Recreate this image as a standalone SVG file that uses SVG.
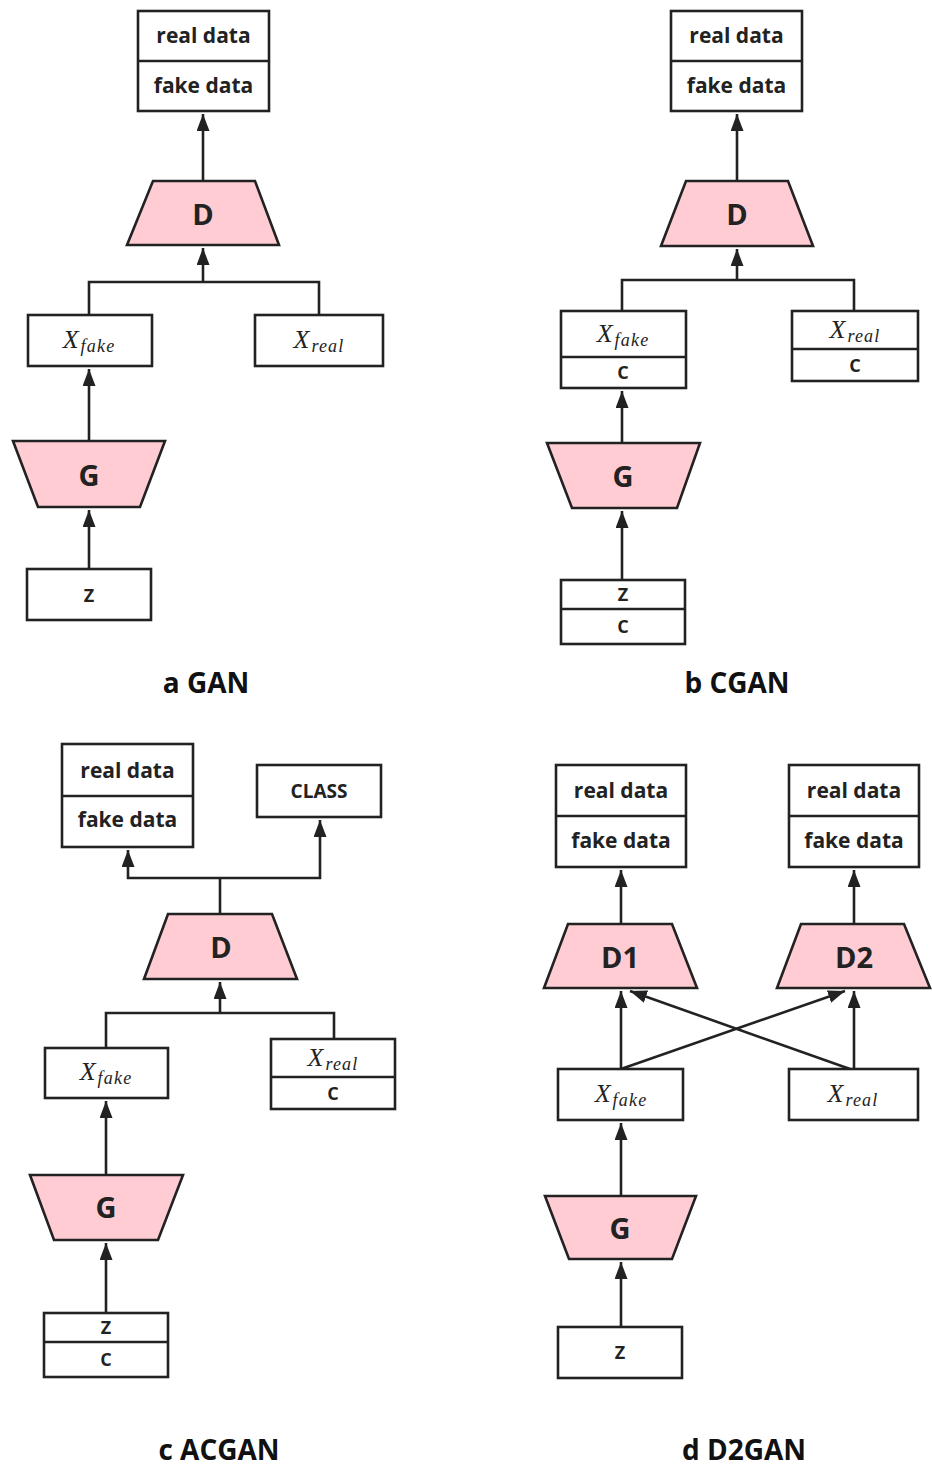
<svg xmlns="http://www.w3.org/2000/svg" width="932" height="1466" viewBox="0 0 932 1466">
<defs>
<style>
.bx{fill:#fff;stroke:#222;stroke-width:2.6}
.tz{fill:#ffccd3;stroke:#222;stroke-width:2.6;stroke-linejoin:miter}
.dv{stroke:#222;stroke-width:2.6}
.ln{fill:none;stroke:#222;stroke-width:2.6}
.t{font-family:"Open Sans","Noto Sans",sans-serif;font-weight:700;fill:#222;text-anchor:middle}
.rf{font-size:21px}
.big{font-size:29px}
.sm{font-size:18px}
.cap{font-size:28px;fill:#111}
.m{font-family:"Liberation Serif","DejaVu Serif",serif;font-style:italic;font-size:26px;fill:#222;text-anchor:middle}
.sub{font-size:18px;letter-spacing:1.2px}
</style>
<marker id="ah" viewBox="0 0 17 13" refX="17" refY="6.5" markerWidth="17" markerHeight="13" markerUnits="userSpaceOnUse" orient="auto">
<path d="M0,0 L17,6.5 L0,13 z" fill="#222"/>
</marker>
</defs>
<rect width="932" height="1466" fill="#fff"/>

<g id="connectors">
<!-- a -->
<path class="ln" d="M203,181 V114" marker-end="url(#ah)"/>
<path class="ln" d="M89,315 V282 H319 V315"/>
<path class="ln" d="M203,282 V248" marker-end="url(#ah)"/>
<path class="ln" d="M89,441 V369" marker-end="url(#ah)"/>
<path class="ln" d="M89,569 V510" marker-end="url(#ah)"/>
<!-- b -->
<path class="ln" d="M737,181 V114" marker-end="url(#ah)"/>
<path class="ln" d="M622,311 V280 H854 V311"/>
<path class="ln" d="M737,280 V249" marker-end="url(#ah)"/>
<path class="ln" d="M622,443 V391" marker-end="url(#ah)"/>
<path class="ln" d="M622,580 V511" marker-end="url(#ah)"/>
<!-- c -->
<path class="ln" d="M220,914 V878"/>
<path class="ln" d="M220,878 H128 V850" marker-end="url(#ah)"/>
<path class="ln" d="M220,878 H320 V820" marker-end="url(#ah)"/>
<path class="ln" d="M106,1048 V1013 H334 V1039"/>
<path class="ln" d="M220,1013 V982" marker-end="url(#ah)"/>
<path class="ln" d="M106,1175 V1101" marker-end="url(#ah)"/>
<path class="ln" d="M106,1313 V1243" marker-end="url(#ah)"/>
<!-- d -->
<path class="ln" d="M621,924 V870" marker-end="url(#ah)"/>
<path class="ln" d="M854,924 V870" marker-end="url(#ah)"/>
<path class="ln" d="M621,1069 V991" marker-end="url(#ah)"/>
<path class="ln" d="M621,1069 L845,991" marker-end="url(#ah)"/>
<path class="ln" d="M854,1069 V991" marker-end="url(#ah)"/>
<path class="ln" d="M850,1069 L630,991" marker-end="url(#ah)"/>
<path class="ln" d="M621,1196 V1123" marker-end="url(#ah)"/>
<path class="ln" d="M621,1327 V1262" marker-end="url(#ah)"/>
</g>

<!-- Panel a -->
<g id="a-out">
<rect class="bx" x="138" y="11" width="131" height="100"/>
<line class="dv" x1="138" y1="61" x2="269" y2="61"/>
<text class="t rf" x="203.5" y="43">real data</text>
<text class="t rf" x="203.5" y="93">fake data</text>
</g>
<g id="a-D">
<polygon class="tz" points="153,181 255,181 279,245 127,245"/>
<text class="t big" x="203" y="225">D</text>
</g>
<g id="a-xfake">
<rect class="bx" x="28" y="315" width="124" height="51"/>
<text class="m" x="89" y="348">X<tspan class="sub" dx="2" dy="4">fake</tspan></text>
</g>
<g id="a-xreal">
<rect class="bx" x="255" y="315" width="128" height="51"/>
<text class="m" x="319" y="348">X<tspan class="sub" dx="2" dy="4">real</tspan></text>
</g>
<g id="a-G">
<polygon class="tz" points="13,441 165,441 140,507 38,507"/>
<text class="t big" x="89" y="486">G</text>
</g>
<g id="a-z">
<rect class="bx" x="27" y="569" width="124" height="51"/>
<text class="t sm" x="89" y="602">Z</text>
</g>
<text class="t cap" x="206" y="693">a GAN</text>

<!-- Panel b -->
<g id="b-out">
<rect class="bx" x="671" y="11" width="131" height="100"/>
<line class="dv" x1="671" y1="61" x2="802" y2="61"/>
<text class="t rf" x="736.5" y="43">real data</text>
<text class="t rf" x="736.5" y="93">fake data</text>
</g>
<g id="b-D">
<polygon class="tz" points="686,181 788,181 813,246 661,246"/>
<text class="t big" x="737" y="225">D</text>
</g>
<g id="b-xfake">
<rect class="bx" x="561" y="311" width="125" height="77"/>
<line class="dv" x1="561" y1="357" x2="686" y2="357"/>
<text class="m" x="623" y="342">X<tspan class="sub" dx="2" dy="4">fake</tspan></text>
<text class="t sm" x="623" y="379">C</text>
</g>
<g id="b-xreal">
<rect class="bx" x="792" y="311" width="126" height="70"/>
<line class="dv" x1="792" y1="349" x2="918" y2="349"/>
<text class="m" x="855" y="338">X<tspan class="sub" dx="2" dy="4">real</tspan></text>
<text class="t sm" x="855" y="372">C</text>
</g>
<g id="b-G">
<polygon class="tz" points="547,443 700,443 677,508 572,508"/>
<text class="t big" x="623" y="487">G</text>
</g>
<g id="b-zc">
<rect class="bx" x="561" y="580" width="124" height="64"/>
<line class="dv" x1="561" y1="609" x2="685" y2="609"/>
<text class="t sm" x="623" y="601">Z</text>
<text class="t sm" x="623" y="633">C</text>
</g>
<text class="t cap" x="737" y="693">b CGAN</text>

<!-- Panel c -->
<g id="c-out">
<rect class="bx" x="62" y="744" width="131" height="103"/>
<line class="dv" x1="62" y1="796" x2="193" y2="796"/>
<text class="t rf" x="127.5" y="778">real data</text>
<text class="t rf" x="127.5" y="827">fake data</text>
</g>
<g id="c-class">
<rect class="bx" x="257" y="765" width="124" height="52"/>
<text class="t" style="font-size:19px" x="319" y="798">CLASS</text>
</g>
<g id="c-D">
<polygon class="tz" points="168,914 272,914 297,979 144,979"/>
<text class="t big" x="221" y="958">D</text>
</g>
<g id="c-xfake">
<rect class="bx" x="45" y="1048" width="123" height="50"/>
<text class="m" x="106" y="1080">X<tspan class="sub" dx="2" dy="4">fake</tspan></text>
</g>
<g id="c-xreal">
<rect class="bx" x="271" y="1039" width="124" height="70"/>
<line class="dv" x1="271" y1="1077" x2="395" y2="1077"/>
<text class="m" x="333" y="1066">X<tspan class="sub" dx="2" dy="4">real</tspan></text>
<text class="t sm" x="333" y="1100">C</text>
</g>
<g id="c-G">
<polygon class="tz" points="30,1175 183,1175 158,1240 54,1240"/>
<text class="t big" x="106" y="1218">G</text>
</g>
<g id="c-zc">
<rect class="bx" x="44" y="1313" width="124" height="64"/>
<line class="dv" x1="44" y1="1342" x2="168" y2="1342"/>
<text class="t sm" x="106" y="1334">Z</text>
<text class="t sm" x="106" y="1366">C</text>
</g>
<text class="t cap" x="219" y="1460">c ACGAN</text>

<!-- Panel d -->
<g id="d-out1">
<rect class="bx" x="556" y="765" width="130" height="102"/>
<line class="dv" x1="556" y1="816" x2="686" y2="816"/>
<text class="t rf" x="621" y="798">real data</text>
<text class="t rf" x="621" y="848">fake data</text>
</g>
<g id="d-out2">
<rect class="bx" x="789" y="765" width="130" height="102"/>
<line class="dv" x1="789" y1="816" x2="919" y2="816"/>
<text class="t rf" x="854" y="798">real data</text>
<text class="t rf" x="854" y="848">fake data</text>
</g>
<g id="d-D1">
<polygon class="tz" points="568,924 672,924 697,988 544,988"/>
<text class="t big" x="620" y="968">D1</text>
</g>
<g id="d-D2">
<polygon class="tz" points="801,924 904,924 930,988 777,988"/>
<text class="t big" x="854" y="968">D2</text>
</g>
<g id="d-xfake">
<rect class="bx" x="558" y="1069" width="125" height="51"/>
<text class="m" x="621" y="1102">X<tspan class="sub" dx="2" dy="4">fake</tspan></text>
</g>
<g id="d-xreal">
<rect class="bx" x="789" y="1069" width="129" height="51"/>
<text class="m" x="853" y="1102">X<tspan class="sub" dx="2" dy="4">real</tspan></text>
</g>
<g id="d-G">
<polygon class="tz" points="545,1196 696,1196 672,1259 569,1259"/>
<text class="t big" x="620" y="1239">G</text>
</g>
<g id="d-z">
<rect class="bx" x="558" y="1327" width="124" height="51"/>
<text class="t sm" x="620" y="1359">Z</text>
</g>
<text class="t cap" x="744" y="1460">d D2GAN</text>
</svg>
